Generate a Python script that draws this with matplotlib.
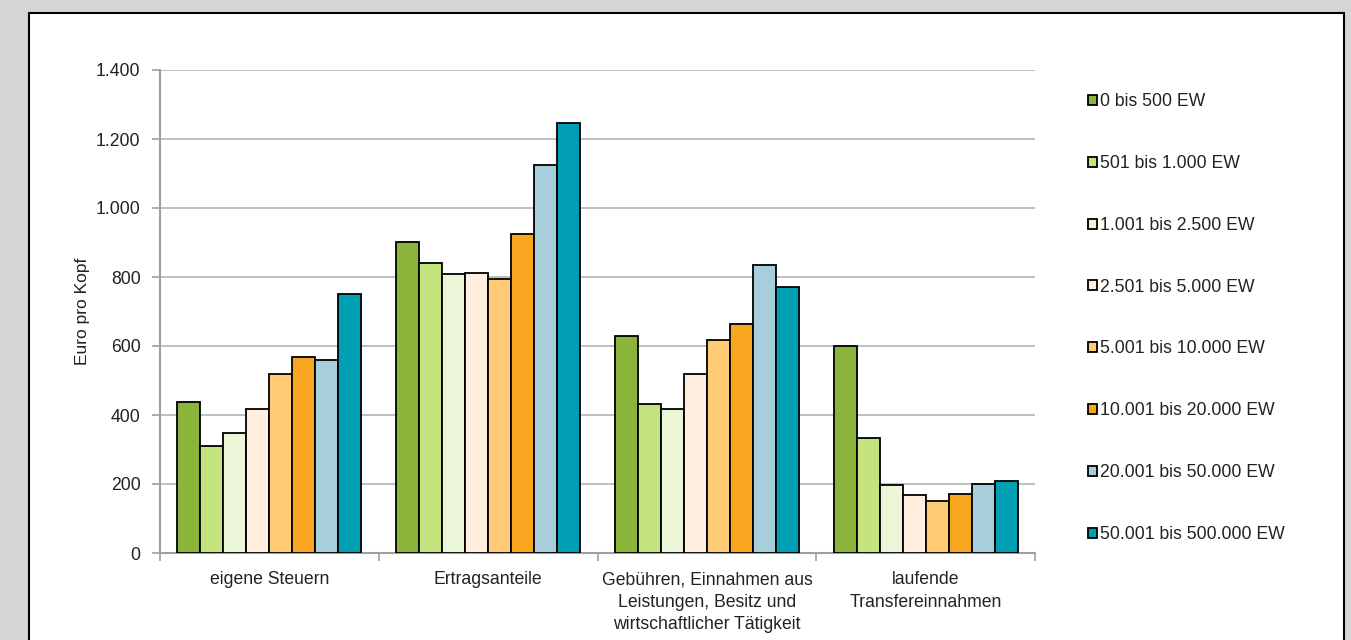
import matplotlib.pyplot as plt
import numpy as np
from matplotlib.patches import Rectangle

plt.rcParams['font.family'] = ['Liberation Sans', 'DejaVu Sans']

# data
categories = ['eigene Steuern', 'Ertragsanteile',
              'Gebühren, Einnahmen aus\nLeistungen, Besitz und\nwirtschaftlicher Tätigkeit',
              'laufende\nTransfereinnahmen']
groups = ['0 bis 500 EW', '501 bis 1.000 EW', '1.001 bis 2.500 EW', '2.501 bis 5.000 EW',
          '5.001 bis 10.000 EW', '10.001 bis 20.000 EW', '20.001 bis 50.000 EW',
          '50.001 bis 500.000 EW']
ew_0_500 = [439, 902, 628, 599]
ew_501_1000 = [311, 840, 432, 332]
ew_1001_2500 = [348, 810, 417, 198]
ew_2501_5000 = [418, 812, 520, 168]
ew_5001_10000 = [520, 795, 617, 150]
ew_10001_20000 = [567, 925, 665, 170]
ew_20001_50000 = [558, 1125, 834, 200]
ew_50001_500000 = [750, 1246, 770, 208]
series = [ew_0_500, ew_501_1000, ew_1001_2500, ew_2501_5000,
          ew_5001_10000, ew_10001_20000, ew_20001_50000, ew_50001_500000]

colors = ['#8ab43a', '#c3e47e', '#ebf5d8', '#ffeedd', '#ffcb74', '#f8a520', '#a7cfdb', '#009fb4']

fig = plt.figure(figsize=(13.51, 6.4), dpi=100, facecolor='#d4d5d7')

# white panel with black frame
fig.patches.append(Rectangle((29 / 1351, -0.05), (1344 - 29) / 1351, 1.05 - 13 / 640,
                             transform=fig.transFigure, facecolor='white',
                             edgecolor='black', linewidth=1.5, zorder=-5))

ax = fig.add_axes([160 / 1351, 1 - 553 / 640, (1035 - 160) / 1351, (553 - 70) / 640])
ax.set_facecolor('none')

n = len(series)
w = 1 / (n + 1.5)
x = np.arange(len(categories))
for i, (vals, c, lab) in enumerate(zip(series, colors, groups)):
    ax.bar(x + (i - (n - 1) / 2) * w, vals, width=w, color=c, edgecolor='black',
           linewidth=1.3, label=lab, zorder=3)

ax.set_xlim(-0.5, len(categories) - 0.5)
ax.set_ylim(0, 1400)
ax.set_yticks(np.arange(0, 1401, 200))
ax.set_yticklabels(['0', '200', '400', '600', '800', '1.000', '1.200', '1.400'],
                   fontsize=12.7, color='#222222')
ax.yaxis.grid(True, color='#b4b4b4', linewidth=1.2, zorder=0)
ax.set_axisbelow(True)

ax.set_xticks(x)
ax.set_xticklabels(categories, fontsize=12.7, color='#222222', linespacing=1.42)
ax.tick_params(axis='x', which='major', length=0, pad=13)
ax.set_xticks(np.arange(-0.5, len(categories)), minor=True)
ax.tick_params(axis='x', which='minor', length=6, color='#a0a0a0', width=1.2)
ax.tick_params(axis='y', length=6, color='#a0a0a0', width=1.2, pad=8)

for s in ['top', 'right']:
    ax.spines[s].set_visible(False)
for s in ['left', 'bottom']:
    ax.spines[s].set_color('#a0a0a0')
    ax.spines[s].set_linewidth(1.5)

ax.set_ylabel('Euro pro Kopf', fontsize=12.5, color='#222222', labelpad=4)

leg = ax.legend(loc='center left', bbox_to_anchor=(1088 / 1351, 1 - 318 / 640),
                bbox_transform=fig.transFigure, frameon=False, fontsize=12.7,
                handlelength=0.5, handleheight=0.5, handletextpad=0.2,
                labelspacing=2.54, borderpad=0, borderaxespad=0)
for t in leg.get_texts():
    t.set_color('#222222')

fig.savefig('out.png', dpi=100, facecolor=fig.get_facecolor())
